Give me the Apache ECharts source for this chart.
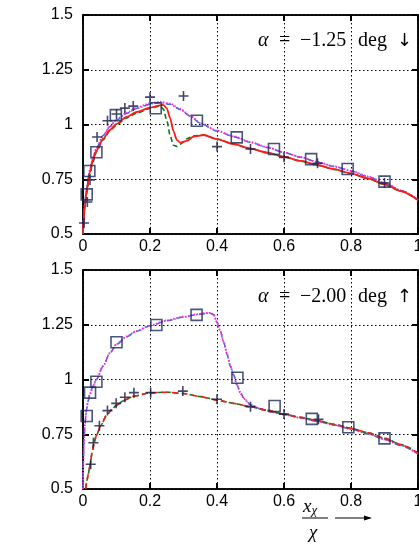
<!DOCTYPE html>
<html><head><meta charset="utf-8">
<script src="https://cdn.jsdelivr.net/npm/echarts@6/dist/echarts.min.js"></script>
<style>html,body{margin:0;padding:0;background:#fff}#c{width:419px;height:547px}</style>
</head><body><div id="c"></div>
<script>
// ---------- Tick labels ----------
const xTicks = [0, 0.2, 0.4, 0.6, 0.8, 1];
const yTicks = [0.5, 0.75, 1, 1.25, 1.5];

// ---------- Top panel (alpha = -1.25 deg) ----------
const topUpperX = [0, 0.002, 0.005, 0.01, 0.02, 0.03, 0.04, 0.06, 0.08, 0.1, 0.13, 0.16, 0.2, 0.23, 0.26, 0.29, 0.32, 0.35, 0.4, 0.45, 0.5, 0.55, 0.6, 0.65, 0.7, 0.75, 0.8, 0.85, 0.9, 0.95, 1.0];
const topBlueY  = [0.5, 0.57, 0.63, 0.70, 0.79, 0.85, 0.89, 0.95, 0.99, 1.02, 1.05, 1.073, 1.093, 1.099, 1.092, 1.068, 1.038, 1.005, 0.97, 0.944, 0.918, 0.895, 0.872, 0.85, 0.828, 0.808, 0.788, 0.762, 0.733, 0.698, 0.655];
const topMagY   = [0.5, 0.57, 0.63, 0.70, 0.79, 0.85, 0.89, 0.95, 0.99, 1.023, 1.054, 1.077, 1.097, 1.104, 1.096, 1.071, 1.04, 1.007, 0.972, 0.946, 0.92, 0.896, 0.873, 0.851, 0.829, 0.809, 0.789, 0.763, 0.734, 0.699, 0.656];

const topLowerX = [0, 0.002, 0.005, 0.01, 0.02, 0.03, 0.04, 0.06, 0.08, 0.1, 0.13, 0.16, 0.2, 0.23, 0.24, 0.25, 0.26, 0.27, 0.28, 0.29, 0.31, 0.33, 0.36, 0.4, 0.45, 0.5, 0.55, 0.6, 0.65, 0.7, 0.75, 0.8, 0.85, 0.9, 0.95, 1.0];
const topRedY   = [0.5, 0.56, 0.62, 0.69, 0.78, 0.84, 0.88, 0.935, 0.975, 1.003, 1.035, 1.057, 1.077, 1.087, 1.089, 1.075, 1.03, 0.97, 0.93, 0.917, 0.925, 0.945, 0.952, 0.933, 0.91, 0.89, 0.872, 0.853, 0.834, 0.815, 0.796, 0.777, 0.754, 0.727, 0.695, 0.655];
const topGreenY = [0.5, 0.555, 0.615, 0.68, 0.77, 0.83, 0.875, 0.93, 0.97, 0.998, 1.03, 1.052, 1.073, 1.085, 1.07, 1.02, 0.95, 0.905, 0.9, 0.91, 0.935, 0.948, 0.952, 0.934, 0.91, 0.89, 0.871, 0.852, 0.833, 0.814, 0.795, 0.776, 0.753, 0.727, 0.695, 0.655];

const topPlusX = [0.003, 0.013, 0.021, 0.042, 0.073, 0.10, 0.125, 0.15, 0.2, 0.30, 0.40, 0.50, 0.60, 0.70, 0.90];
const topPlusY = [0.55, 0.646, 0.747, 0.943, 1.017, 1.048, 1.075, 1.084, 1.125, 1.13, 0.899, 0.888, 0.85, 0.823, 0.733];
const topSqX = [0.011, 0.019, 0.04, 0.098, 0.217, 0.34, 0.459, 0.57, 0.681, 0.79, 0.90];
const topSqY = [0.681, 0.788, 0.873, 1.043, 1.074, 1.017, 0.941, 0.888, 0.842, 0.797, 0.739];

// ---------- Bottom panel (alpha = -2.00 deg) ----------
const botUpperX = [0, 0.001, 0.003, 0.006, 0.01, 0.015, 0.02, 0.03, 0.04, 0.06, 0.08, 0.1, 0.13, 0.16, 0.2, 0.25, 0.3, 0.34, 0.37, 0.38, 0.39, 0.40, 0.41, 0.42, 0.43, 0.44, 0.45, 0.46, 0.47, 0.48, 0.5, 0.53, 0.57, 0.6, 0.65, 0.7, 0.75, 0.8, 0.85, 0.9, 0.95, 1.0];
const botBlueY  = [0.5, 0.62, 0.72, 0.80, 0.86, 0.90, 0.93, 0.97, 1.0, 1.06, 1.12, 1.16, 1.195, 1.22, 1.245, 1.268, 1.285, 1.296, 1.302, 1.302, 1.296, 1.26, 1.22, 1.17, 1.115, 1.06, 1.02, 0.975, 0.94, 0.915, 0.885, 0.866, 0.85, 0.84, 0.825, 0.809, 0.792, 0.774, 0.752, 0.726, 0.698, 0.66];
const botMagY   = [0.5, 0.62, 0.72, 0.80, 0.86, 0.90, 0.93, 0.97, 1.0, 1.062, 1.122, 1.162, 1.197, 1.222, 1.247, 1.27, 1.287, 1.298, 1.304, 1.304, 1.298, 1.262, 1.222, 1.172, 1.117, 1.062, 1.018, 0.972, 0.937, 0.913, 0.884, 0.866, 0.85, 0.84, 0.825, 0.809, 0.792, 0.774, 0.752, 0.727, 0.699, 0.661];

const botLowerX = [0.008, 0.012, 0.016, 0.021, 0.027, 0.033, 0.04, 0.053, 0.07, 0.085, 0.1, 0.12, 0.15, 0.2, 0.25, 0.3, 0.35, 0.4, 0.45, 0.5, 0.55, 0.6, 0.65, 0.7, 0.75, 0.8, 0.85, 0.9, 0.95, 1.0];
const botRedY   = [0.5, 0.54, 0.57, 0.61, 0.665, 0.71, 0.745, 0.79, 0.835, 0.862, 0.882, 0.903, 0.923, 0.939, 0.942, 0.936, 0.922, 0.906, 0.891, 0.876, 0.859, 0.842, 0.827, 0.812, 0.795, 0.777, 0.757, 0.731, 0.702, 0.663];
const botGreenY = [0.5, 0.54, 0.57, 0.61, 0.665, 0.71, 0.745, 0.79, 0.835, 0.862, 0.882, 0.903, 0.923, 0.939, 0.942, 0.936, 0.922, 0.906, 0.891, 0.876, 0.859, 0.842, 0.827, 0.812, 0.795, 0.777, 0.757, 0.732, 0.703, 0.664];

const botPlusX = [0.023, 0.031, 0.049, 0.073, 0.099, 0.125, 0.152, 0.202, 0.298, 0.40, 0.50, 0.60, 0.703];
const botPlusY = [0.613, 0.711, 0.789, 0.858, 0.891, 0.919, 0.94, 0.94, 0.947, 0.91, 0.876, 0.842, 0.818];
const botSqX = [0.011, 0.021, 0.04, 0.10, 0.219, 0.339, 0.461, 0.572, 0.683, 0.792, 0.90];
const botSqY = [0.833, 0.94, 0.99, 1.17, 1.249, 1.295, 1.008, 0.879, 0.82, 0.782, 0.731];

// ---------- build ----------
const pairs = (xs, ys) => xs.map((x, i) => [x, ys[i]]);
const GL = 83, GW = 335, GH = 219;
const grids = [
  {left: GL, top: 15, width: GW, height: GH, show: true, borderColor: '#000', borderWidth: 1.5, containLabel: false, outerBoundsMode: 'none'},
  {left: GL, top: 270, width: GW, height: GH, show: true, borderColor: '#000', borderWidth: 1.5, containLabel: false, outerBoundsMode: 'none'}
];
const labelFont = {fontFamily: 'Liberation Sans', fontSize: 16, color: '#000'};
const fmt = v => String(+v.toFixed(2));
function xAx(g, pos, labels) {
  return {type: 'value', gridIndex: g, position: pos, min: 0, max: 1, interval: 0.2,
    axisLine: {show: true, onZero: false, lineStyle: {color: '#000', width: 1.5}},
    axisTick: {show: true, inside: true, length: 6, lineStyle: {color: '#000', width: 2}},
    axisLabel: {show: labels, margin: 5, formatter: fmt, hideOverlap: false, ...labelFont},
    splitLine: {show: labels, lineStyle: {color: '#000', width: 1, type: [1.5, 2.5]}}};
}
function yAx(g, pos, labels) {
  return {type: 'value', gridIndex: g, position: pos, min: 0.5, max: 1.5, interval: 0.25,
    axisLine: {show: true, onZero: false, lineStyle: {color: '#000', width: 1.5}},
    axisTick: {show: true, inside: true, length: 6, lineStyle: {color: '#000', width: 2}},
    axisLabel: {show: labels, margin: 10, formatter: fmt, ...labelFont},
    splitLine: {show: labels, lineStyle: {color: '#000', width: 1, type: [1.5, 2.5]}}};
}
const xAxes = [xAx(0, 'bottom', true), xAx(0, 'top', false), xAx(1, 'bottom', true), xAx(1, 'top', false)];
const yAxes = [yAx(0, 'left', true), yAx(0, 'right', false), yAx(1, 'left', true), yAx(1, 'right', false)];

function line(xi, yi, data, color, type, width) {
  return {type: 'line', xAxisIndex: xi, yAxisIndex: yi, data, showSymbol: false, symbol: 'none',
    smooth: 0.25, smoothMonotone: 'x', clip: true,
    lineStyle: {color, type, width}, z: 3};
}
const plusPath = 'path://M0,5L10,5M5,0L5,10';
function plus(xi, yi, data) {
  return {type: 'scatter', xAxisIndex: xi, yAxisIndex: yi, data, symbol: plusPath, symbolSize: 10,
    itemStyle: {color: 'none', borderColor: '#141a45', borderWidth: 1.6}, z: 5};
}
function squares(xi, yi, data) {
  return {type: 'scatter', xAxisIndex: xi, yAxisIndex: yi, data, symbol: 'rect', symbolSize: 11,
    itemStyle: {color: 'rgba(0,0,0,0)', borderColor: '#1c2a5c', borderWidth: 1.6}, z: 5};
}
const series = [
  line(0, 0, pairs(topUpperX, topBlueY), '#2a6cf0', [6, 2, 1, 2], 1.5),
  line(0, 0, pairs(topUpperX, topMagY), '#ff2ad4', [1.5, 1.5], 1.8),
  line(0, 0, pairs(topLowerX, topGreenY), '#0a7a12', [5, 3], 1.6),
  line(0, 0, pairs(topLowerX, topRedY), '#ff1a1a', 'solid', 1.8),
  plus(0, 0, pairs(topPlusX, topPlusY)),
  squares(0, 0, pairs(topSqX, topSqY)),
  line(2, 2, pairs(botUpperX, botBlueY), '#2a6cf0', [6, 2, 1, 2], 1.5),
  line(2, 2, pairs(botUpperX, botMagY), '#ff2ad4', [1.5, 1.5], 1.8),
  line(2, 2, pairs(botLowerX, botGreenY), '#0a7a12', [5, 3], 1.6),
  line(2, 2, pairs(botLowerX, botRedY), '#ff1a1a', [6, 4], 1.6),
  plus(2, 2, pairs(botPlusX, botPlusY)),
  squares(2, 2, pairs(botSqX, botSqY))
];

const serif = 'Liberation Serif';
function annoText(x, yc, txt, italic, font, size) {
  return {type: 'text', x, y: yc, z: 10, style: {text: txt, fontFamily: font || serif, fontSize: size || 20,
    fontStyle: italic ? 'italic' : 'normal', fill: '#000', verticalAlign: 'middle', align: 'left'}};
}
function anno(yc, val, arrow) {
  return [
    annoText(258, yc, 'α', true),
    annoText(279, yc, '=', false),
    annoText(300, yc, '−' + val, false),
    annoText(358, yc, 'deg', false),
    annoText(397, yc, arrow, false, 'DejaVu Sans', 18)
  ];
}
const graphic = [
  ...anno(41, '1.25', '↓'),
  ...anno(297, '2.00', '↑'),
  {type: 'text', x: 303, y: 496, z: 10, style: {text: '{a|x}{s|χ}', rich: {a: {fontFamily: serif, fontStyle: 'italic', fontSize: 19, fill: '#000'}, s: {fontFamily: serif, fontStyle: 'italic', fontSize: 13, fill: '#000', padding: [8, 0, 0, 0]}}}},
  {type: 'line', z: 10, shape: {x1: 302, y1: 518, x2: 328, y2: 518}, style: {stroke: '#000', lineWidth: 1}},
  {type: 'text', x: 309, y: 523, z: 10, style: {text: 'χ', fontFamily: serif, fontStyle: 'italic', fontSize: 19, fill: '#000'}},
  {type: 'line', z: 10, shape: {x1: 335, y1: 518, x2: 370, y2: 518}, style: {stroke: '#000', lineWidth: 1}},
  {type: 'polygon', z: 10, shape: {points: [[372, 518], [364, 515.5], [364, 520.5]]}, style: {fill: '#000'}}
];

const chart = echarts.init(document.getElementById('c'), null, {renderer: 'canvas'});
chart.setOption({animation: false, backgroundColor: '#fff', grid: grids, xAxis: xAxes, yAxis: yAxes, series, graphic});
</script></body></html>
